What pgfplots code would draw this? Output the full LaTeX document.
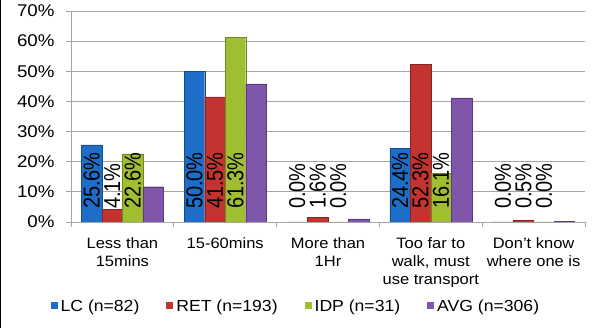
\documentclass[border=0pt]{standalone}
\usepackage{pgfplots}
\pgfplotsset{compat=1.18}
\usepackage{fontspec}
\setmainfont[FakeStretch=1.1]{Liberation Sans}
\newfontfamily\labfont{Liberation Sans}
\definecolor{cLC}{RGB}{30,110,200}
\definecolor{cRET}{RGB}{195,52,48}
\definecolor{cIDP}{RGB}{160,190,50}
\definecolor{cAVG}{RGB}{128,86,170}
\definecolor{gridc}{RGB}{165,165,165}
\pgfplotsset{
  sqleg/.style={legend image code/.code={\path[##1,draw=none] (0pt,-3.5pt) rectangle (7pt,3.5pt);}},
  barlab/.style={
    nodes near coords={\pgfmathprintnumber[fixed,fixed zerofill,precision=1]{\pgfplotspointmeta}\%},
    visualization depends on={y \as \rawy},
    every node near coord/.append style={yshift=-\rawy*3.0143pt+13pt, xscale=1.15, rotate=90, anchor=west,
      font=\labfont\fontsize{20}{20}\selectfont, text=black, inner sep=0pt, outer sep=0pt},
  },
}
\begin{document}
\begin{tikzpicture}
\useasboundingbox (0,0) rectangle (595pt,328pt);
\draw[black, line width=1.2pt] (0.6pt,0pt) -- (0.6pt,328pt);
\begin{axis}[
  at={(71pt,106pt)}, anchor=south west,
  scale only axis, width=514pt, height=211pt,
  xmin=-0.5, xmax=4.5, ymin=0, ymax=70,
  enlargelimits=false,
  axis lines*=left,
  axis line style={draw=gridc, line width=0.8pt},
  ymajorgrids, grid style={draw=gridc, line width=0.8pt},
  tick align=outside, major tick length=5pt,
  tick style={draw=gridc, line width=0.8pt},
  ytick={0,10,...,70},
  yticklabel={\pgfmathprintnumber{\tick}\%},
  yticklabel style={font=\fontsize{17}{17}\selectfont, anchor=east, xshift=-8pt},
  /pgf/number format/assume math mode=true,
  xtick={-0.5,0.5,1.5,2.5,3.5,4.5},
  xticklabels={},
  extra x ticks={0,1,2,3,4},
  extra x tick labels={{Less than\\15mins}, {15-60mins}, {More than\\1Hr}, {Too far to\\walk, must\\use transport}, {Don't know\\where one is}},
  extra x tick style={major tick length=0pt, grid=none,
    xticklabel style={align=center, font=\fontsize{15}{18}\selectfont, anchor=north, yshift=-12pt}},
  ybar=0pt, bar width=20.5pt,
  legend columns=4,
  legend style={at={(-0.040,-0.398)}, anchor=west, draw=none, inner sep=0pt,
    font=\fontsize{16}{16}\selectfont,
    /tikz/every odd column/.append style={column sep=1pt},
    /tikz/every even column/.append style={column sep=25pt}},
]
\addplot[fill=cLC, draw=cLC!70!black, sqleg, barlab] coordinates {(0,25.6) (1,50.0) (2,0.0) (3,24.4) (4,0.0)};
\addplot[fill=cRET, draw=cRET!70!black, sqleg, barlab] coordinates {(0,4.1) (1,41.5) (2,1.6) (3,52.3) (4,0.5)};
\addplot[fill=cIDP, draw=cIDP!70!black, sqleg, barlab] coordinates {(0,22.6) (1,61.3) (2,0.0) (3,16.1) (4,0.0)};
\addplot[fill=cAVG, draw=cAVG!70!black, sqleg] coordinates {(0,11.7) (1,45.8) (2,1.0) (3,41.2) (4,0.3)};
\legend{LC (n=82), RET (n=193), IDP (n=31), AVG (n=306)}
\end{axis}
\end{tikzpicture}
\end{document}
